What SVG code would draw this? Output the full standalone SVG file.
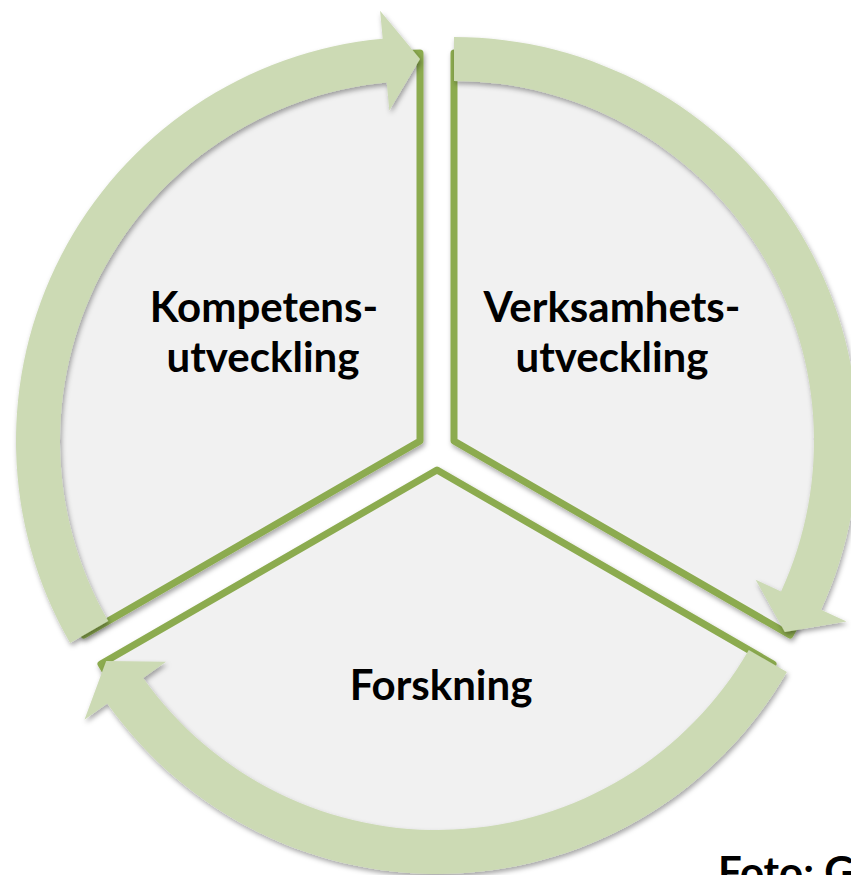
<svg xmlns="http://www.w3.org/2000/svg" width="851" height="875" viewBox="0 0 851 875">
<defs>
<filter id="sh" x="-10%" y="-10%" width="120%" height="120%">
<feDropShadow dx="1.5" dy="3" stdDeviation="2.5" flood-color="#000" flood-opacity="0.35"/>
</filter>
<style>
.sector{fill:#f1f1f1;stroke:#8cab50;stroke-width:7;stroke-linejoin:round;filter:url(#sh)}
.arrow{fill:#ccdab4;stroke:none;filter:url(#sh)}
.lbl{font-family:Lato,"Liberation Sans",sans-serif;font-weight:700;font-size:42px;fill:#000;text-anchor:middle}
</style>
</defs>
<rect width="851" height="875" fill="#fff"/>
<g id="node-kompetens">
<path class="sector" d="M420,441 L83.98,635 A388,388 0 0 1 420,53 Z"/>
</g>
<g id="node-verksamhet">
<path class="sector" d="M454,441 L454,53 A388,388 0 0 1 790.02,635 Z"/>
</g>
<g id="node-forskning">
<path class="sector" d="M437,470 L773.02,664 A388,388 0 0 1 100.98,664 Z"/>
</g>
<g id="connectors">
<path class="arrow" d="M108.23,621 L70.13,643 A404,404 0 0 1 382.68,38.73 L380.10,10.85 L420,59 L389.33,110.42 L386.75,82.54 A360,360 0 0 0 108.23,621 Z"/>
<path class="arrow" d="M454,81 L454,37 A404,404 0 0 1 821.04,609.82 L846.48,621.52 L784.82,632 L755.63,579.73 L781.06,591.43 A360,360 0 0 0 454,81 Z"/>
<path class="arrow" d="M748.77,650 L786.87,672 A404,404 0 0 1 107.28,703.46 L84.43,719.64 L106.18,661 L166.04,661.85 L143.19,678.03 A360,360 0 0 0 748.77,650 Z"/>
</g>
<g id="labels">
<text class="lbl" x="264" y="322">Kompetens-</text>
<text class="lbl" x="263" y="372">utveckling</text>
<text class="lbl" x="612" y="322">Verksamhets-</text>
<text class="lbl" x="612" y="372">utveckling</text>
<text class="lbl" x="441" y="700">Forskning</text>
<text class="lbl" x="718" y="887" style="text-anchor:start">Foto: G</text>
</g>
</svg>
